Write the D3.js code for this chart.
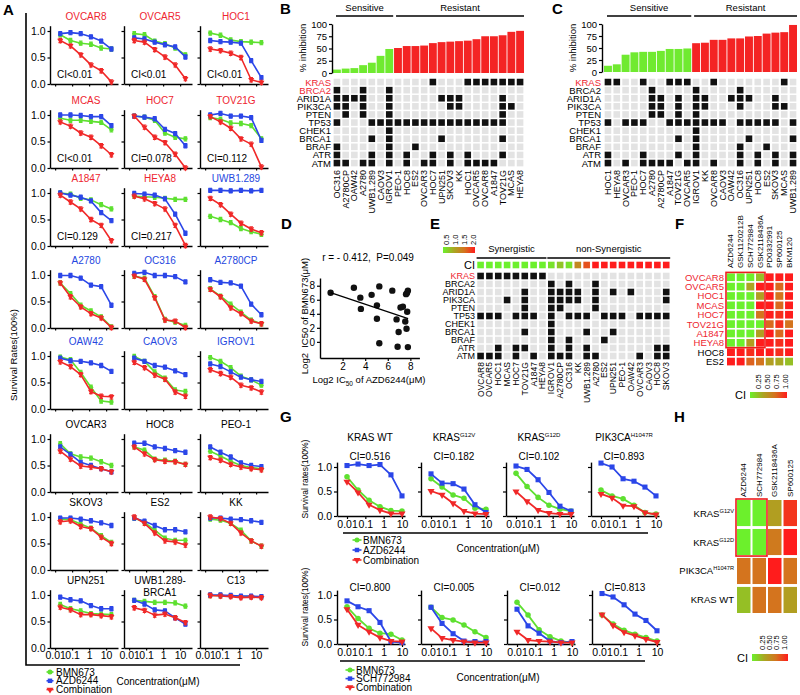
<!DOCTYPE html>
<html>
<head>
<meta charset="utf-8">
<script src="https://cdn.jsdelivr.net/npm/d3@7/dist/d3.min.js"></script>
<style>
html,body{margin:0;padding:0;background:#fff;}
svg{display:block;}
</style>
</head>
<body>
<svg id="chart" width="800" height="695"></svg>
<script>
// ======================= DATA =======================
// ---- Panel A ----
const concA = [0.02, 0.08, 0.32, 1.28, 5.12, 20.48];
const xTicks = [0.01, 0.1, 1, 10];
const xTickLabels = ["0.01", "0.1", "1", "10"];
const yTicksA = [0, 0.5, 1];
const cellLinesA = ["OVCAR8","OVCAR5","HOC1","MCAS","HOC7","TOV21G","A1847","HEYA8","UWB1.289",
  "A2780","OC316","A2780CP","OAW42","CAOV3","IGROV1","OVCAR3","HOC8","PEO-1","SKOV3","ES2","KK",
  "UPN251","UWB1.289-\nBRCA1","C13"];
const titleGroupA = ["r","r","r","r","r","r","r","r","b","b","b","b","b","b","b","k","k","k","k","k","k","k","k","k"];
const ciTextA = ["CI<0.01","CI<0.01","CI<0.01","CI<0.01","CI=0.078","CI=0.112","CI=0.129","CI=0.217"];
const bmnA = [
  [0.93,0.82,0.77,0.75,0.68,0.66],[0.95,0.93,0.81,0.76,0.68,0.55],[0.96,0.92,0.83,0.80,0.79,0.78],
  [0.94,0.90,0.90,0.88,0.86,0.72],[0.98,0.96,0.90,0.66,0.58,0.55],[0.95,0.92,0.85,0.84,0.80,0.55],
  [1.00,0.98,0.90,0.87,0.78,0.70],[0.94,0.93,0.92,0.90,0.88,0.88],[0.56,0.50,0.44,0.33,0.27,0.22],
  [0.85,0.65,0.43,0.32,0.21,0.02],[0.98,0.94,0.59,0.16,0.11,0.05],[0.74,0.60,0.45,0.30,0.15,0.08],
  [0.98,0.93,0.69,0.41,0.15,0.13],[0.99,0.90,0.70,0.58,0.36,0.33],[0.97,0.90,0.78,0.62,0.55,0.45],
  [0.91,0.72,0.66,0.64,0.57,0.50],[0.85,0.79,0.62,0.60,0.58,0.52],[0.77,0.68,0.58,0.50,0.46,0.44],
  [0.96,0.95,0.87,0.79,0.65,0.52],[0.98,0.90,0.75,0.60,0.56,0.56],[0.96,0.94,0.88,0.75,0.55,0.45],
  [0.82,0.74,0.70,0.65,0.64,0.63],[0.90,0.88,0.86,0.86,0.85,0.79],[0.99,0.99,0.98,0.97,0.97,0.96]];
const azdA = [
  [0.95,0.97,0.95,0.89,0.81,0.66],[0.87,0.85,0.79,0.74,0.70,0.51],[0.82,0.80,0.79,0.77,0.44,0.12],
  [1.00,1.00,0.99,0.97,0.97,0.80],[0.98,0.96,0.93,0.73,0.65,0.42],[1.00,1.03,0.98,0.98,0.95,0.52],
  [1.00,0.96,0.92,0.85,0.63,0.48],[0.99,0.98,0.96,0.89,0.60,0.24],[1.05,1.05,1.04,1.05,1.04,1.05],
  [0.99,0.99,0.94,0.81,0.78,0.43],[1.03,1.05,0.99,0.99,0.97,0.87],[0.91,0.86,0.85,0.79,0.45,0.25],
  [0.96,0.91,0.90,0.87,0.82,0.71],[0.96,0.90,0.82,0.79,0.72,0.65],[0.85,0.80,0.70,0.60,0.55,0.52],
  [0.85,0.71,0.56,0.50,0.44,0.38],[0.92,0.92,0.85,0.82,0.78,0.75],[0.85,0.75,0.66,0.55,0.50,0.48],
  [0.98,0.98,0.96,0.93,0.89,0.84],[0.98,0.92,0.84,0.76,0.76,0.72],[0.98,0.98,0.96,0.95,0.93,0.90],
  [0.96,0.91,0.89,0.80,0.74,0.74],[0.90,0.83,0.72,0.70,0.57,0.45],[1.00,1.00,0.99,0.98,0.98,0.97]];
const comboA = [
  [0.82,0.72,0.55,0.36,0.25,0.04],[0.82,0.79,0.65,0.51,0.36,0.10],[0.66,0.63,0.58,0.50,0.08,0.03],
  [0.87,0.79,0.66,0.58,0.42,0.25],[0.98,0.77,0.58,0.48,0.26,0.00],[0.97,0.87,0.75,0.55,0.45,0.02],
  [0.96,0.83,0.70,0.50,0.39,0.10],[0.94,0.89,0.80,0.70,0.39,0.01],[0.90,0.78,0.60,0.43,0.32,0.25],
  [0.85,0.59,0.40,0.27,0.19,0.01],[0.98,0.92,0.57,0.15,0.13,0.01],[0.73,0.59,0.38,0.27,0.13,0.08],
  [0.89,0.80,0.65,0.33,0.24,0.23],[0.88,0.78,0.64,0.56,0.32,0.24],[0.74,0.67,0.60,0.45,0.40,0.32],
  [0.77,0.62,0.49,0.47,0.44,0.38],[0.85,0.72,0.61,0.58,0.57,0.52],[0.65,0.60,0.52,0.47,0.44,0.42],
  [0.91,0.93,0.82,0.78,0.62,0.50],[1.00,0.88,0.70,0.55,0.53,0.47],[1.00,0.97,0.88,0.70,0.55,0.45],
  [0.77,0.72,0.63,0.63,0.61,0.59],[0.76,0.71,0.62,0.64,0.57,0.48],[0.99,0.98,0.97,0.95,0.96,0.95]];
const errA = 0.04;
const legendA = ["BMN673", "AZD6244", "Combination"];

// ---- Panels B, C, E : mutations ----
const genes = ["KRAS","BRCA2","ARID1A","PIK3CA","PTEN","TP53","CHEK1","BRCA1","BRAF","ATR","ATM"];
const mutated = [
  ["HOC7","HOC1","OVCAR5","OVCAR8","A1847","TOV21G","MCAS","HEYA8"],
  ["OC316","A2780","IGROV1"],
  ["OC316","A2780CP","OAW42","A2780","IGROV1","UPN251","SKOV3","KK","TOV21G"],
  ["OC316","A2780CP","A2780","IGROV1","SKOV3","KK","TOV21G","MCAS"],
  ["A2780CP","A2780","IGROV1","TOV21G"],
  ["OC316","UWB1.289","CAOV3","IGROV1","PEO-1","HOC8","ES2","OVCAR3","HOC7","UPN251","SKOV3","KK","HOC1","OVCAR5","OVCAR8","A1847","TOV21G"],
  ["IGROV1"],
  ["UWB1.289","IGROV1","UPN251","TOV21G"],
  ["OC316","IGROV1","ES2"],
  ["OC316","UWB1.289","IGROV1","HOC8","HOC7","SKOV3","HOC1","TOV21G"],
  ["OC316","A2780CP","A2780","UWB1.289","IGROV1","HOC8","OVCAR3","HOC7","SKOV3","HOC1","OVCAR5","OVCAR8","A1847"]];
const inhibTicks = [0, 25, 50, 75, 100];
const cellsB = ["OC316","A2780CP","OAW42","A2780","UWB1.289","CAOV3","IGROV1","PEO-1","HOC8","ES2","OVCAR3",
  "HOC7","UPN251","SKOV3","KK","HOC1","OVCAR5","OVCAR8","A1847","TOV21G","MCAS","HEYA8"];
const inhibB = [7,9,10,16,21,35,49,51,55,55,56,61,63,64,65,66,69,75,75,77,84,86];
const nSensB = 7;
const cellsC = ["HOC1","HEYA8","OVCAR3","PEO-1","HOC7","A2780","A2780CP","A1847","TOV21G","OVCAR5","IGROV1",
  "KK","OVCAR8","CAOV3","OAW42","OC316","UPN251","HOC8","ES2","SKOV3","MCAS","UWB1.289"];
const inhibC = [13,16,36,41,42,42,44,48,48,49,60,61,67,67,70,70,74,75,80,82,83,98];
const nSensC = 10;

// ---- Panel D ----
const icAZD = [0.94,3.0,3.57,3.62,4.57,5.04,5.25,5.04,5.25,6.4,6.78,6.96,7.13,7.34,6.87,7.55,7.7,7.78,7.72,7.66,7.78,7.62];
const icBMN = [7.0,7.7,6.3,4.7,6.7,5.2,7.9,3.3,-0.2,7.3,3.2,1.4,4.9,5.0,-0.7,2.9,6.95,7.3,4.3,1.86,-0.75,6.8];
const fitX = [0.94, 7.8];
const fitY = [7.0, 3.3];
const xTicksD = [2, 4, 6, 8];
const yTicksD = [0, 2, 4, 6, 8];

// ---- Panel E ----
const cellsE = ["OVCAR8","OVCAR5","HOC1","MCAS","HOC7","TOV21G","A1847","HEYA8","IGROV1","A2780CP","OC316","KK",
  "UWB1.289","A2780","ES2","UPN251","PEO-1","OAW42","OVCAR3","CAOV3","HOC8","SKOV3"];
const ciE = [0.2,0.2,0.2,0.2,0.2,0.2,0.2,0.2,0.6,0.8,0.6,1.3,1.7,2,2,2,2,2,2,2,2,2];
const nSynE = 8;
const ciLegendE = [0.5, 1.0, 1.5, 2.0];

// ---- Panel F ----
const drugsF = ["AZD6244","GSK1120212B","SCH772984","GSK2118436A","PD0332991","SP600125","BKM120"];
const cellsF = ["OVCAR8","OVCAR5","HOC1","MCAS","HOC7","TOV21G","A1847","HEYA8","HOC8","ES2"];
const ciF = [
  [0.2,0.2,0.2,0.42,1.0,1.0,1.0],
  [0.2,0.2,0.52,1.0,1.0,0.78,1.0],
  [0.2,0.2,0.2,0.55,1.0,0.75,1.0],
  [0.2,0.2,0.2,1.0,1.0,0.78,1.0],
  [0.2,0.2,0.2,0.75,1.0,0.95,1.0],
  [0.2,0.2,0.2,0.25,0.78,0.95,0.75],
  [0.2,0.2,0.2,0.55,1.0,0.78,1.0],
  [0.2,0.2,0.55,1.0,1.0,0.95,1.0],
  [1.0,1.0,0.95,1.0,1.0,0.95,1.0],
  [1.0,1.0,0.8,0.75,0.55,0.5,0.42]];
const ciLegendF = [0.25, 0.50, 0.75, 1.00];

// ---- Panel G ----
const concG = [0.01, 0.04, 0.16, 0.63, 2.5, 10];
const yTicksG = [0, 0.5, 1];
const titlesG = ["KRAS WT", "KRAS|G12V", "KRAS|G12D", "PIK3CA|H1047R"];
const ciTopG = ["CI=0.516", "CI=0.182", "CI=0.102", "CI=0.893"];
const bmnTopG = [[0.80,0.53,0.32,0.19,0.11,0.10],[0.76,0.59,0.43,0.36,0.16,0.14],[0.87,0.60,0.38,0.22,0.14,0.10],[0.53,0.41,0.35,0.22,0.07,0.04]];
const azdTopG = [[1.03,1.06,1.03,1.05,0.84,0.41],[0.86,0.67,0.66,0.55,0.23,0.07],[1.02,0.95,0.74,0.48,0.20,0.10],[1.08,1.00,0.76,0.71,0.59,0.41]];
const comboTopG = [[0.70,0.48,0.23,0.12,0.05,0.05],[0.51,0.43,0.26,0.10,0.05,0.04],[0.50,0.30,0.12,0.06,0.04,0.04],[0.45,0.37,0.21,0.20,0.07,0.03]];
const legendTopG = ["BMN673", "AZD6244", "Combination"];
const ciBotG = ["CI=0.800", "CI=0.005", "CI=0.012", "CI=0.813"];
const bmnBotG = [[0.76,0.52,0.32,0.22,0.20,0.08],[0.75,0.54,0.49,0.39,0.25,0.13],[0.85,0.59,0.29,0.15,0.06,0.03],[0.59,0.41,0.28,0.20,0.13,0.06]];
const schBotG = [[0.88,0.76,0.68,0.44,0.05,0.03],[0.75,0.42,0.21,0.06,0.05,0.05],[0.71,0.37,0.22,0.06,0.03,0.05],[1.03,0.96,0.80,0.61,0.48,0.27]];
const comboBotG = [[0.71,0.39,0.25,0.13,0.06,0.05],[0.32,0.12,0.08,0.05,0.03,0.03],[0.25,0.08,0.06,0.05,0.03,0.03],[0.60,0.38,0.24,0.17,0.10,0.04]];
const legendBotG = ["BMN673", "SCH772984", "Combination"];

// ---- Panel H ----
const drugsH = ["AZD6244","SCH772984","GSK2118436A","SP600125"];
const rowsH = ["KRAS|G12V","KRAS|G12D","PIK3CA|H1047R","KRAS WT"];
const ciH = [[0.2,0.2,0.55,0.93],[0.2,0.2,0.72,1.0],[0.75,0.75,1.0,0.75],[0.42,0.75,0.75,0.55]];

// ======================= DRAW =======================
const FONT = "'Liberation Sans', Arial, Helvetica, sans-serif";
const GREEN = "#5ee030", BLUE = "#2b46e8", RED = "#f02828";
const TRED = "#ee2530", TBLUE = "#2547e0";
const BAR_G = "#70ea30", BAR_R = "#f42424";
const CELL_ON = "#111111", CELL_OFF = "#e3e3e3";
const RAMP = ["#6cf02c", "#a8a822", "#d4741e", "#ff1c1c"];

const svg = d3.select("#chart").attr("font-family", FONT);
const defs = svg.append("defs");
const grad = defs.append("linearGradient").attr("id", "ciGrad")
  .attr("x1", "0%").attr("x2", "100%").attr("y1", "0%").attr("y2", "0%");
RAMP.forEach((c, k) => grad.append("stop").attr("offset", `${k / (RAMP.length - 1) * 100}%`).attr("stop-color", c));

function label(x, y, s, o = {}) {
  const t = svg.append("text").attr("x", x).attr("y", y).text(s)
    .attr("font-size", o.size || 10).attr("fill", o.fill || "#000")
    .attr("text-anchor", o.anchor || "start");
  if (o.weight) t.attr("font-weight", o.weight);
  if (o.baseline) t.attr("dominant-baseline", o.baseline);
  if (o.rotate) t.attr("transform", `rotate(${o.rotate},${x},${y})`);
  if (o.pre) t.style("white-space", "pre");
  return t;
}
function supLabel(x, y, s, o = {}) {
  const parts = s.split("|");
  const size = o.size || 10;
  const t = svg.append("text").attr("x", x).attr("y", y).attr("font-size", size)
    .attr("text-anchor", o.anchor || "start").attr("fill", o.fill || "#000");
  t.append("tspan").text(parts[0]);
  if (parts[1]) t.append("tspan").attr("font-size", size * 0.6).attr("dy", -size * 0.42).text(parts[1]);
  return t;
}
function styleAxis(g, size) {
  g.attr("font-family", FONT).attr("font-size", size);
  g.select(".domain").attr("stroke", "#000").attr("stroke-width", 1.4);
  g.selectAll(".tick line").attr("stroke", "#000").attr("stroke-width", 1.2);
  g.selectAll(".tick text").attr("fill", "#000");
  return g;
}
const symGen = d3.symbol();
const SYM = { circle: d3.symbolCircle, square: d3.symbolSquare, tri: d3.symbolTriangle };
function series(g, x, y, conc, vals, color, kind, o) {
  g.append("path").attr("d", d3.line()(vals.map((v, i) => [x(conc[i]), y(v)])))
    .attr("fill", "none").attr("stroke", color).attr("stroke-width", o.lw).attr("stroke-linejoin", "round");
  if (o.err) vals.forEach((v, i) => {
    const px = x(conc[i]), y1 = y(Math.max(v - o.err, -0.03)), y2 = y(v + o.err);
    g.append("path").attr("d", `M${px},${y1}V${y2}M${px - 1.8},${y1}H${px + 1.8}M${px - 1.8},${y2}H${px + 1.8}`)
      .attr("stroke", color).attr("stroke-width", 1.1).attr("fill", "none");
  });
  const d = symGen.type(SYM[kind]).size(o.ms)();
  g.selectAll(null).data(vals).join("path").attr("d", d)
    .attr("transform", (v, i) => `translate(${x(conc[i])},${y(v)})${kind === "tri" ? " rotate(180)" : ""}`)
    .attr("fill", color);
}
function legendItem(x, y, xText, name, color, kind, len) {
  svg.append("line").attr("x1", x - len).attr("x2", x + len).attr("y1", y).attr("y2", y)
    .attr("stroke", color).attr("stroke-width", 1.6);
  svg.append("path").attr("d", symGen.type(SYM[kind]).size(20)())
    .attr("transform", `translate(${x},${y})${kind === "tri" ? " rotate(180)" : ""}`).attr("fill", color);
  label(xText, y, name, { baseline: "central", size: 10 });
}
const ciColor = (dom) => d3.scaleLinear().domain(dom).range(RAMP).clamp(true);
function ciLegend(o) {
  svg.append("rect").attr("x", o.x0).attr("y", o.y).attr("width", o.x1 - o.x0).attr("height", o.h).attr("fill", "url(#ciGrad)");
  const s = d3.scaleLinear().domain(d3.extent(o.ticks)).range([o.tx0, o.tx1]);
  o.ticks.forEach(t => label(s(t), o.ty, o.fmt(t), { rotate: -90, baseline: "central", size: 7.5 }));
  if (o.ciX) label(o.ciX, o.y + o.h / 2, "CI", { anchor: "end", baseline: "central", size: 11 });
}

// ---------------- Panel A ----------------
label(3, 15, "A", { size: 15, weight: "bold" });
svg.append("path").attr("d", "M26,13V665H240").attr("fill", "none").attr("stroke", "#000").attr("stroke-width", 1.6);
label(13, 355, "Survival Rates(100%)", { rotate: -90, anchor: "middle", baseline: "central", size: 9.5 });
const colXA = [50, 124, 200];
const rowTopA = [31, 115, 193, 275, 356, 439, 517, 595];
const hA = 53;
cellLinesA.forEach((name, i) => {
  const r = Math.floor(i / 3), c = i % 3, x0 = colXA[c], top = rowTopA[r];
  const x = d3.scaleLog().domain([0.005, 50]).range([x0, x0 + 68]);
  const y = d3.scaleLinear().domain([0, 1.1]).range([top + hA, top - 0.1 * hA]);
  const g = svg.append("g");
  styleAxis(g.append("g").attr("transform", `translate(${x0},0)`)
    .call(d3.axisLeft(y).tickValues(yTicksA).tickSize(2.5).tickPadding(2).tickSizeOuter(0)
      .tickFormat(c === 0 ? d3.format(".1f") : () => "")), 10.5);
  styleAxis(g.append("g").attr("transform", `translate(0,${top + hA})`)
    .call(d3.axisBottom(x).tickValues(xTicks).tickSize(2.5).tickPadding(1.5).tickSizeOuter(0)
      .tickFormat((d, k) => r === 7 ? xTickLabels[k] : "")), 10.5);
  series(g, x, y, concA, bmnA[i], GREEN, "circle", { lw: 1.6, err: errA, ms: 16 });
  series(g, x, y, concA, azdA[i], BLUE, "square", { lw: 1.6, err: errA, ms: 18 });
  series(g, x, y, concA, comboA[i], RED, "tri", { lw: 1.6, err: errA, ms: 16 });
  const tc = titleGroupA[i] === "r" ? TRED : titleGroupA[i] === "b" ? TBLUE : "#000";
  name.split("\n").forEach((ln, k) => label(x0 + 36, top - 11 + 12 * k, ln, { anchor: "middle", size: 10, fill: tc }));
  if (i < ciTextA.length) label(x0 + 7, top + 47, ciTextA[i], { size: 10 });
});
legendA.forEach((nm, k) => legendItem(50, 672 + k * 8.8, 56, nm, [GREEN, BLUE, RED][k], ["circle", "square", "tri"][k], 3.5));
label(158, 681, "Concentration(μM)", { anchor: "middle", baseline: "central", size: 10 });

// ---------------- Panels B & C ----------------
function mutPanel(p) {
  label(p.letterX, 14, p.letter, { size: 15, weight: "bold" });
  const band = d3.scaleBand().domain(p.cells).range(p.xr).paddingInner(0.1);
  const bw = band.bandwidth();
  const yB = d3.scaleLinear().domain([0, 100]).range([p.yBase, 24]);
  const g = svg.append("g");
  g.selectAll("rect.bar").data(p.cells).join("rect").attr("class", "bar")
    .attr("x", d => band(d)).attr("width", bw)
    .attr("y", (d, i) => yB(p.inhib[i])).attr("height", (d, i) => yB(0) - yB(p.inhib[i]))
    .attr("fill", (d, i) => i < p.nSens ? BAR_G : BAR_R);
  styleAxis(g.append("g").attr("transform", `translate(${p.axisX},0)`)
    .call(d3.axisLeft(yB).tickValues(inhibTicks).tickSize(3).tickPadding(2).tickSizeOuter(0)), 9.5);
  label(p.axisX - 30, 48, "% inhibition", { rotate: -90, anchor: "middle", baseline: "central", size: 9.5 });
  const sA = band(p.cells[0]) + 3, sB = band(p.cells[p.nSens - 1]) + bw;
  const rA = band(p.cells[p.nSens]) + 2, rB = band(p.cells[p.cells.length - 1]) + bw;
  [[sA, sB, "Sensitive"], [rA, rB, "Resistant"]].forEach(([a, b, t]) => {
    svg.append("line").attr("x1", a).attr("x2", b).attr("y1", 16).attr("y2", 16).attr("stroke", "#000").attr("stroke-width", 1.3);
    label((a + b) / 2, 11, t, { anchor: "middle", size: 9.5 });
  });
  const rowB = d3.scaleBand().domain(genes).range([78, 78 + 8.1 * genes.length]);
  genes.forEach((gene, j) => {
    const yc = rowB(gene) + rowB.bandwidth() / 2;
    g.selectAll(null).data(p.cells).join("rect")
      .attr("x", d => band(d) + bw / 2 - 3.3).attr("y", yc - 3.3).attr("width", 6.6).attr("height", 6.6)
      .attr("fill", d => mutated[j].includes(d) ? CELL_ON : CELL_OFF);
    label(p.axisX - 1, yc, gene, { anchor: "end", baseline: "central", size: 9.5, fill: p.redGenes.includes(gene) ? TRED : "#000" });
  });
  p.cells.forEach(cell => label(band(cell) + bw / 2, 170, cell, { rotate: -90, anchor: "end", baseline: "central", size: 9 }));
}
mutPanel({ letter: "B", letterX: 280, cells: cellsB, inhib: inhibB, nSens: nSensB, xr: [333, 524], axisX: 332, yBase: 73, redGenes: ["KRAS", "BRCA2"] });
mutPanel({ letter: "C", letterX: 552, cells: cellsC, inhib: inhibC, nSens: nSensC, xr: [604, 797], axisX: 602, yBase: 72, redGenes: ["KRAS"] });

// ---------------- Panel D ----------------
label(281, 229, "D", { size: 15, weight: "bold" });
{
  const xD = d3.scaleLinear().domain([0, 8.8]).range([320, 419.4]);
  const yD = d3.scaleLinear().domain([-2.3, 9.1]).range([358, 278]);
  styleAxis(svg.append("g").attr("transform", "translate(320,0)")
    .call(d3.axisLeft(yD).tickValues(yTicksD).tickSize(3).tickPadding(2).tickSizeOuter(0)), 10);
  styleAxis(svg.append("g").attr("transform", "translate(0,358)")
    .call(d3.axisBottom(xD).tickValues(xTicksD).tickSize(3).tickPadding(1.5).tickSizeOuter(0)), 10);
  svg.append("g").selectAll("circle").data(icAZD).join("circle")
    .attr("cx", d => xD(d)).attr("cy", (d, i) => yD(icBMN[i])).attr("r", 3.2).attr("fill", "#111");
  svg.append("path").attr("d", d3.line()(fitX.map((v, i) => [xD(v), yD(fitY[i])])))
    .attr("stroke", "#000").attr("stroke-width", 1.3).attr("fill", "none");
  label(368, 261, "r = - 0.412,  P=0.049", { anchor: "middle", size: 10, pre: true });
  label(304, 316, "Log2  IC50 of BMN673(μM)", { rotate: -90, anchor: "middle", baseline: "central", size: 9.5, pre: true });
  const t = svg.append("text").attr("x", 369).attr("y", 383).attr("text-anchor", "middle").attr("font-size", 9.5);
  t.append("tspan").text("Log2 IC");
  t.append("tspan").attr("font-size", 6.5).attr("dy", 2.5).text("50");
  t.append("tspan").attr("dy", -2.5).text(" of AZD6244(μM)");
}

// ---------------- Panel E ----------------
label(430, 229, "E", { size: 15, weight: "bold" });
{
  const band = d3.scaleBand().domain(cellsE).range([476.6, 670.2]).paddingInner(0.1);
  const bw = band.bandwidth();
  const rowE = d3.scaleBand().domain(genes).range([272, 272 + 8 * genes.length]);
  const col = ciColor(ciLegendE);
  ciLegend({ x0: 443, x1: 475, y: 247, h: 6, ticks: ciLegendE, fmt: d3.format(".1f"), tx0: 446, tx1: 473, ty: 245 });
  const sA = band(cellsE[0]), sB = band(cellsE[nSynE - 1]) + bw;
  const nA = band(cellsE[nSynE]), nB = band(cellsE[cellsE.length - 1]) + bw;
  [[sA, sB, "Synergistic"], [nA, nB, "non-Synergistic"]].forEach(([a, b, t]) => {
    svg.append("line").attr("x1", a).attr("x2", b).attr("y1", 258).attr("y2", 258).attr("stroke", "#000").attr("stroke-width", 1.3);
    label((a + b) / 2, 252, t, { anchor: "middle", size: 9.5 });
  });
  label(475, 265, "CI", { anchor: "end", baseline: "central", size: 11 });
  svg.append("g").selectAll("rect").data(cellsE).join("rect")
    .attr("x", d => band(d) + bw / 2 - 3.3).attr("y", 265 - 3.3).attr("width", 6.6).attr("height", 6.6)
    .attr("fill", (d, i) => col(ciE[i]));
  genes.forEach((gene, j) => {
    const yc = rowE(gene) + rowE.bandwidth() / 2;
    svg.append("g").selectAll("rect").data(cellsE).join("rect")
      .attr("x", d => band(d) + bw / 2 - 3.3).attr("y", yc - 3.3).attr("width", 6.6).attr("height", 6.6)
      .attr("fill", d => mutated[j].includes(d) ? CELL_ON : CELL_OFF);
    label(475, yc, gene, { anchor: "end", baseline: "central", size: 9, fill: gene === "KRAS" ? TRED : "#000" });
  });
  cellsE.forEach(cell => label(band(cell) + bw / 2, 362, cell, { rotate: -90, anchor: "end", baseline: "central", size: 8.5 }));
}

// ---------------- Panel F ----------------
label(675, 229, "F", { size: 15, weight: "bold" });
{
  const bx = d3.scaleBand().domain(drugsF).range([727, 793]).paddingInner(0.18);
  const by = d3.scaleBand().domain(cellsF).range([273.4, 365.4]).paddingInner(0.18);
  const col = ciColor(ciLegendF);
  cellsF.forEach((cl, j) => {
    svg.append("g").selectAll("rect").data(drugsF).join("rect")
      .attr("x", d => bx(d)).attr("y", by(cl)).attr("width", bx.bandwidth()).attr("height", by.bandwidth())
      .attr("fill", (d, k) => col(ciF[j][k]));
    label(724, by(cl) + by.bandwidth() / 2, cl, { anchor: "end", baseline: "central", size: 9.5, fill: j < 8 ? TRED : "#000" });
  });
  drugsF.forEach(d => label(bx(d) + bx.bandwidth() / 2, 268, d, { rotate: -90, baseline: "central", size: 8 }));
  const x1 = bx(drugsF[0]) - 1, x2 = bx(drugsF[3]) + bx.bandwidth() + 1;
  const y1 = by(cellsF[0]) - 1, y2 = by(cellsF[7]) + by.bandwidth() + 1;
  svg.append("rect").attr("x", x1).attr("y", y1).attr("width", x2 - x1).attr("height", y2 - y1)
    .attr("fill", "none").attr("stroke", "#ee1c1c").attr("stroke-width", 1.6);
  ciLegend({ x0: 750, x1: 787, y: 392, h: 6, ticks: ciLegendF, fmt: d3.format(".2f"), tx0: 758, tx1: 785, ty: 389, ciX: 746 });
}

// ---------------- Panel G ----------------
label(280, 422, "G", { size: 15, weight: "bold" });
function gRow(o) {
  o.x0s.forEach((x0, k) => {
    const x = d3.scaleLog().domain([0.002846, 14.58]).range([x0, x0 + 68]);
    const y = d3.scaleLinear().domain([0, 1.1]).range([o.top + 49, o.top - 4.9]);
    const g = svg.append("g");
    styleAxis(g.append("g").attr("transform", `translate(${x0},0)`)
      .call(d3.axisLeft(y).tickValues(yTicksG).tickSize(3).tickPadding(2).tickSizeOuter(0)
        .tickFormat(k === 0 ? d3.format(".1f") : () => "")), 10.5);
    styleAxis(g.append("g").attr("transform", `translate(0,${o.top + 49})`)
      .call(d3.axisBottom(x).tickValues(xTicks).tickSize(3).tickPadding(1.5).tickSizeOuter(0)
        .tickFormat((d, q) => xTickLabels[q])), 10.5);
    series(g, x, y, concG, o.bmn[k], GREEN, "circle", { lw: 1.8, ms: 24 });
    series(g, x, y, concG, o.drug[k], BLUE, "square", { lw: 1.8, ms: 26 });
    series(g, x, y, concG, o.combo[k], RED, "tri", { lw: 1.8, ms: 22 });
    if (o.titles) supLabel(x0 + 33, o.titleY, o.titles[k], { anchor: "middle", size: 10 });
    label(x0 + 33, o.ciY, o.ci[k], { anchor: "middle", size: 10 });
  });
  label(305, o.top + 12, "Survival rates(100%)", { rotate: -90, anchor: "middle", baseline: "central", size: 8.5 });
  svg.append("line").attr("x1", o.brX[0]).attr("x2", o.brX[1]).attr("y1", o.brY).attr("y2", o.brY).attr("stroke", "#000").attr("stroke-width", 1.4);
  o.legend.forEach((nm, k) => legendItem(o.legX, o.legY + k * o.legStep, o.legX + 6, nm, [GREEN, BLUE, RED][k], ["circle", "square", "tri"][k], 4.5));
  label(498, o.concY, "Concentration(μM)", { anchor: "middle", baseline: "central", size: 10 });
}
gRow({ x0s: [337, 421, 506, 591], top: 467, titles: titlesG, titleY: 441, ci: ciTopG, ciY: 460,
  bmn: bmnTopG, drug: azdTopG, combo: comboTopG, brX: [343, 648], brY: 533,
  legend: legendTopG, legX: 357, legY: 540, legStep: 10, concY: 548 });
gRow({ x0s: [337, 421, 507, 592], top: 595, titles: null, ci: ciBotG, ciY: 591,
  bmn: bmnBotG, drug: schBotG, combo: comboBotG, brX: [340, 645], brY: 661,
  legend: legendBotG, legX: 350, legY: 670, legStep: 8.6, concY: 677 });

// ---------------- Panel H ----------------
label(674, 422, "H", { size: 15, weight: "bold" });
{
  const bx = d3.scaleBand().domain(drugsH).range([737, 797]).paddingInner(0.13);
  const by = d3.scaleBand().domain(rowsH).range([500, 613]).paddingInner(0.1);
  const col = ciColor(ciLegendF);
  rowsH.forEach((rw, j) => {
    svg.append("g").selectAll("rect").data(drugsH).join("rect")
      .attr("x", d => bx(d)).attr("y", by(rw)).attr("width", bx.bandwidth()).attr("height", by.bandwidth())
      .attr("fill", (d, k) => col(ciH[j][k]));
    supLabel(734, by(rw) + by.bandwidth() / 2 + 3.5, rw, { anchor: "end", size: 9.5 });
  });
  drugsH.forEach(d => label(bx(d) + bx.bandwidth() / 2, 497, d, { rotate: -90, baseline: "central", size: 8 }));
  const x1 = bx(drugsH[0]) - 1, x2 = bx(drugsH[1]) + bx.bandwidth() + 1;
  const y1 = by(rowsH[0]) - 1, y2 = by(rowsH[1]) + by.bandwidth() + 1;
  svg.append("rect").attr("x", x1).attr("y", y1).attr("width", x2 - x1).attr("height", y2 - y1)
    .attr("fill", "none").attr("stroke", "#ee1c1c").attr("stroke-width", 1.6);
  ciLegend({ x0: 752, x1: 788, y: 654, h: 7, ticks: ciLegendF, fmt: d3.format(".2f"), tx0: 762, tx1: 784, ty: 650, ciX: 748 });
}
</script>
</body>
</html>
